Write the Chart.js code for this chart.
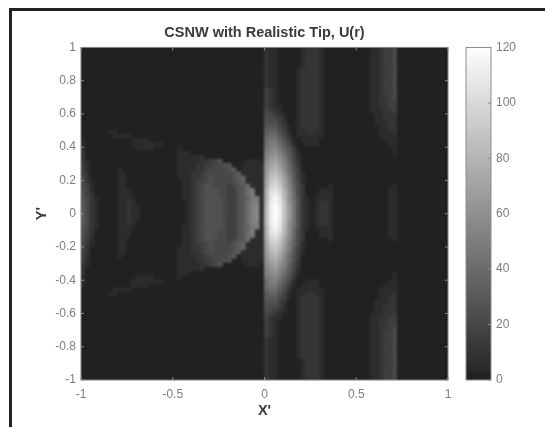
<!DOCTYPE html>
<html>
<head>
<meta charset="utf-8">
<style>
html,body{margin:0;padding:0;background:#fff;width:545px;height:427px;overflow:hidden}
#edge{position:absolute;left:9px;top:8px;width:536px;height:419px;border-left:3px solid #222;border-top:3px solid #222;box-sizing:border-box}
canvas{position:absolute;top:0;filter:blur(0.4px)}
#main{left:0}
#bar{left:440px}
</style>
<script src="https://cdn.jsdelivr.net/npm/chart.js@4/dist/chart.umd.min.js"></script>
</head>
<body>
<div id="edge"></div>
<canvas id="main" width="545" height="427"></canvas>
<canvas id="bar" width="105" height="427"></canvas>
<script>
const titleText = "CSNW with Realistic Tip, U(r)";
const xAxisLabel = "X'";
const yAxisLabel = "Y'";
const xTickValues = [-1, -0.5, 0, 0.5, 1];
const xTickLabels = ["-1", "-0.5", "0", "0.5", "1"];
const yTickValues = [-1, -0.8, -0.6, -0.4, -0.2, 0, 0.2, 0.4, 0.6, 0.8, 1];
const yTickLabels = ["-1", "-0.8", "-0.6", "-0.4", "-0.2", "0", "0.2", "0.4", "0.6", "0.8", "1"];
const barTickValues = [0, 20, 40, 60, 80, 100, 120];
const barTickLabels = ["0", "20", "40", "60", "80", "100", "120"];
// U(r): one symbol per cell in units of 5 (0-9, a=50 ... o=120).
// Rows run from Y'=+1 down to Y'=0; the field is mirror-symmetric about Y'=0.
const uRowsTopHalf = [
"00000000000000000000 00000000000000000000 21100000122210000000 00011233400000000000",
"00000000000000000000 00000000000000000000 21100000122210000000 00011233400000000000",
"00000000000000000000 00000000000000000000 21100000122210000000 00011233400000000000",
"00000000000000000000 00000000000000000000 21100000122210000000 00011233400000000000",
"00000000000000000000 00000000000000000000 21100000122210000000 00011233400000000000",
"00000000000000000000 00000000000000000000 21100001222210000000 00011233400000000000",
"00000000000000000000 00000000000000000000 21100001222210000000 00011233400000000000",
"00000000000000000000 00000000000000000000 21100001222210000000 00011233400000000000",
"00000000000000000000 00000000000000000000 21100001222210000000 00011233400000000000",
"00000000000000000000 00000000000000000000 21100001222210000000 00011233400000000000",
"00000000000000000000 00000000000000000000 32100001222210000000 00011233400000000000",
"00000000000000000000 00000000000000000000 32100001222210000000 00011233400000000000",
"00000000000000000000 00000000000000000000 32100001222210000000 00011223400000000000",
"00000000000000000000 00000000000000000000 32100001222210000000 00011223300000000000",
"00000000000000000000 00000000000000000000 32110001222210000000 00011223300000000000",
"00000000000000000000 00000000000000000000 43210001222210000000 00011122300000000000",
"00000000000000000000 00000000000000000000 44321001222210000000 00001122200000000000",
"00000000000000000000 00000000000000000000 54431001222210000000 00001122200000000000",
"00000000000000000000 00000000000000000000 55532001222210000000 00001112200000000000",
"00000000000000000000 00000000000000000000 66643101222210000000 00000112200000000000",
"00000011000000000000 00000000000000000000 67753101122110000000 00000111200000000000",
"00000001111000000000 00000000000000000000 78864201111110000000 00000111100000000000",
"10000000000111100000 00000000000000000000 89975310111100000000 00000011100000000000",
"10000000000111111100 00000000000000000000 8aa86410011100000000 00000001100000000000",
"10000000000011110000 01000000000000000000 9ab97530000000000000 00000000100000000000",
"20000000000000000000 01110000000000000000 abca8631000000000000 00000000100000000000",
"20000000000000000000 01111120000000000000 acdb9641000000000000 00000000000000000000",
"21000000000000000000 01111122345000001110 bdeca742000000000000 00000000000000000000",
"31000000000000000000 01111223344550011111 cefda852000000000000 00000000000000000000",
"31000000100000000000 01111223444456011111 cfgeb853000000000000 00000000000000000000",
"32000000110000000000 01112234444445611111 dghfc963100000000000 00000000000000000000",
"42000000110000000000 01112234544445671111 dhigda63100000000000 00000000000000000000",
"42100000110000000000 00112334544445671111 eijhea74100000000000 00000000000000000000",
"43100000110000000000 00112345544434568111 ejkieb74200000100000 00000000100000000000",
"53100000111000000000 00112345554433568911 fkljfb84200011100000 00000001100000000000",
"53200000111000000000 00112345554433568a11 flmkgc84200011100000 00000001100000000000",
"54210000111100000000 001123455554335679a1 flnlgc85210111100000 00000001100000000000",
"64210000112100000000 00012345555433568aa1 gmnlhc95210122100000 00000001100000000000",
"64210000112110000000 00012345555433568ab1 gmomhd95210122100000 00000001100000000000",
"64210000112110000000 00012345555433568ab1 gmomhd95210122100000 00000001100000000000"
];
const symbols = "0123456789abcdefghijklmno";
const gridXMin = -1, gridYMax = 1, cellStep = 0.025;
const backgroundColor = "rgb(35,32,33)";

function grayFor(v){
  if (v <= 0) return backgroundColor;
  const g = Math.round(35 + v * 220 / 120);
  return "rgb(" + g + "," + g + "," + g + ")";
}
const cellPoints = [], cellColors = [];
const rowsClean = uRowsTopHalf.map(r => r.replace(/ /g, ""));
const total = rowsClean.length;
function addRow(row, y){
  for (let k = 0; k < row.length; k++){
    const v = symbols.indexOf(row[k]) * 5;
    cellPoints.push({x: gridXMin + cellStep * (k + 0.5), y: y});
    cellColors.push(grayFor(v));
  }
}
rowsClean.forEach((row, i) => addRow(row, gridYMax - cellStep * (i + 0.5)));
for (let i = total - 1; i >= 0; i--) addRow(rowsClean[i], -(gridYMax - cellStep * (i + 0.5)));

const frameColor = "#8c8c8c", tickTextColor = "#7d7d7d", titleColor = "#3a3a3a", fontName = "'Liberation Sans', Arial, sans-serif";

const boxPlugin = {
  id: "box",
  beforeDatasetsDraw(chart){
    const o = chart.options.plugins.box;
    if (!o.fill) return;
    const {ctx, chartArea: a} = chart;
    ctx.save(); ctx.fillStyle = o.fill; ctx.fillRect(a.left, a.top, a.right - a.left, a.bottom - a.top); ctx.restore();
  },
  afterDatasetsDraw(chart){
    const {ctx, chartArea: a} = chart;
    const o = chart.options.plugins.box;
    ctx.save();
    if (o.soften){
      const l = Math.ceil(a.left) + 1, t = Math.ceil(a.top) + 1;
      const w = Math.floor(a.right) - 1 - l, h = Math.floor(a.bottom) - 1 - t;
      const tmp = document.createElement("canvas");
      tmp.width = w; tmp.height = h;
      tmp.getContext("2d").drawImage(chart.canvas, l, t, w, h, 0, 0, w, h);
      ctx.filter = "blur(" + o.soften + "px)";
      ctx.drawImage(tmp, l, t);
      ctx.filter = "none";
    }
    ctx.strokeStyle = frameColor;
    ctx.lineWidth = 1;
    ctx.strokeRect(a.left, a.top, a.right - a.left, a.bottom - a.top);
    const L = o.len;
    const xs = chart.scales.x, ys = chart.scales.y;
    ctx.beginPath();
    if (o.xTicks){
      xs.ticks.forEach(t => {
        const p = xs.getPixelForValue(t.value);
        ctx.moveTo(p, a.bottom); ctx.lineTo(p, a.bottom - L);
        ctx.moveTo(p, a.top); ctx.lineTo(p, a.top + L);
      });
    }
    ys.ticks.forEach(t => {
      const p = ys.getPixelForValue(t.value);
      if (o.leftTicks){ ctx.moveTo(a.left, p); ctx.lineTo(a.left + L, p); }
      ctx.moveTo(a.right, p); ctx.lineTo(a.right - L, p);
    });
    ctx.stroke();
    ctx.restore();
  }
};

new Chart(document.getElementById("main"), {
  type: "scatter",
  data: { datasets: [{
    data: cellPoints,
    pointStyle: "rect",
    pointRadius: 4.0,
    pointBorderWidth: 0,
    pointBackgroundColor: cellColors,
    pointHoverRadius: 4.0
  }]},
  plugins: [boxPlugin],
  options: {
    responsive: false, animation: false, devicePixelRatio: 1,
    events: [],
    layout: { padding: { left: 0, right: 97, top: 0, bottom: 0 } },
    plugins: {
      legend: { display: false }, tooltip: { enabled: false },
      box: { len: 3, xTicks: true, leftTicks: true, fill: backgroundColor, soften: 1.2 },
      title: { display: true, fullSize: false, text: titleText, color: titleColor,
        font: { family: fontName, size: 14.5, weight: "bold" },
        padding: { top: 24, bottom: 6 } }
    },
    scales: {
      x: { type: "linear", min: -1, max: 1,
        grid: { display: false, drawTicks: false }, border: { display: false },
        afterBuildTicks: s => { s.ticks = xTickValues.map(value => ({ value })); },
        afterFit: s => { s.height = 47; },
        ticks: { color: tickTextColor, font: { family: fontName, size: 12 }, padding: 7, maxRotation: 0, autoSkip: false,
          callback: v => xTickLabels[xTickValues.indexOf(v)] },
        title: { display: true, text: xAxisLabel, color: titleColor, font: { family: fontName, size: 14.5, weight: "bold" }, padding: 7 }
      },
      y: { type: "linear", min: -1, max: 1,
        grid: { display: false, drawTicks: false }, border: { display: false },
        afterBuildTicks: s => { s.ticks = yTickValues.map(value => ({ value })); },
        afterFit: s => { s.width = 81; },
        ticks: { color: tickTextColor, font: { family: fontName, size: 12 }, padding: 5, autoSkip: false,
          callback: v => yTickLabels[yTickValues.indexOf(v)] },
        title: { display: true, text: yAxisLabel, color: titleColor, font: { family: fontName, size: 14.5, weight: "bold" }, padding: 33 }
      }
    }
  }
});

// colour bar
const bandWidth = 1.875;
const barSets = [];
for (let lo = 0; lo < 120; lo += bandWidth){
  barSets.push({ data: [[lo, Math.min(120, lo + bandWidth + 0.6)]], backgroundColor: grayFor(lo === 0 ? 0 : lo + bandWidth / 2),
    borderWidth: 0, grouped: false, barPercentage: 1, categoryPercentage: 1 });
}
new Chart(document.getElementById("bar"), {
  type: "bar",
  data: { labels: ["U(r)"], datasets: barSets },
  plugins: [boxPlugin],
  options: {
    responsive: false, animation: false, devicePixelRatio: 1, events: [],
    layout: { padding: { left: 26, right: 0, top: 47.5, bottom: 47 } },
    plugins: { legend: { display: false }, tooltip: { enabled: false }, title: { display: false },
      box: { len: 3, xTicks: false, leftTicks: false } },
    scales: {
      x: { display: false },
      y: { position: "right", min: 0, max: 120,
        grid: { display: false, drawTicks: false }, border: { display: false },
        afterBuildTicks: s => { s.ticks = barTickValues.map(value => ({ value })); },
        afterFit: s => { s.width = 54; },
        ticks: { color: tickTextColor, font: { family: fontName, size: 12 }, padding: 5, autoSkip: false,
          callback: v => barTickLabels[barTickValues.indexOf(v)] }
      }
    }
  }
});
</script>
</body>
</html>
